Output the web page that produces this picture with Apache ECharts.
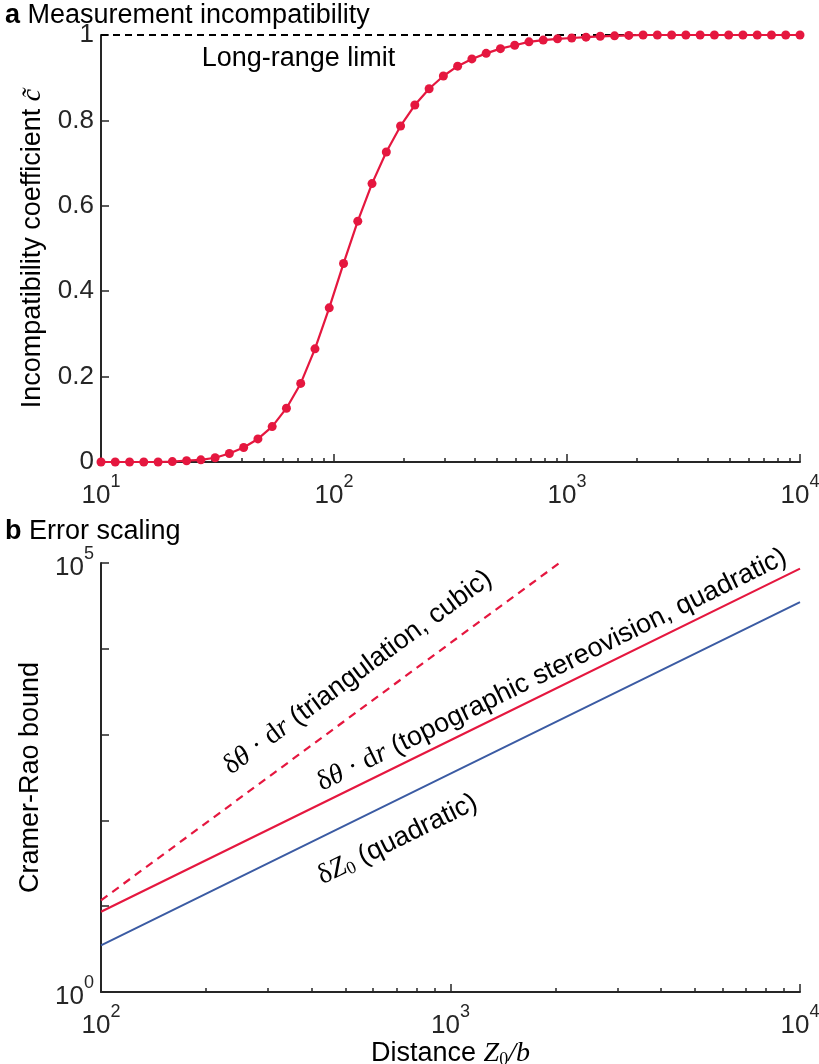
<!DOCTYPE html>
<html>
<head>
<meta charset="utf-8">
<title>Measurement incompatibility / Error scaling</title>
<script src="https://cdn.jsdelivr.net/npm/echarts@6/dist/echarts.min.js"></script>
<style>
  * { margin: 0; padding: 0; }
  html, body, #chart { width: 819px; height: 1064px; overflow: hidden; background: #fff; }
</style>
</head>
<body>
<div id="chart"></div>
<script>
// panel a: log-spaced distances Z0/b and the incompatibility coefficient
var distA = [10, 11.51, 13.26, 15.26, 17.58, 20.24, 23.30, 26.83, 30.89, 35.56,
  40.95, 47.15, 54.29, 62.51, 71.97, 82.86, 95.41, 109.9, 126.5, 145.6,
  167.7, 193.1, 222.3, 256.0, 294.7, 339.3, 390.7, 449.9, 518.0, 596.4,
  686.6, 790.6, 910.3, 1048, 1207, 1389, 1600, 1842, 2121, 2442,
  2812, 3237, 3728, 4292, 4942, 5690, 6551, 7543, 8685, 10000];
var coeffA = [0, 0, 0, 0, 0, 0.001, 0.003, 0.005, 0.010, 0.020,
  0.034, 0.054, 0.083, 0.126, 0.184, 0.265, 0.361, 0.465, 0.564, 0.652,
  0.726, 0.787, 0.836, 0.874, 0.904, 0.927, 0.944, 0.957, 0.968, 0.976,
  0.984, 0.988, 0.991, 0.993, 0.995, 0.997, 0.998, 0.999, 1, 1,
  1, 1, 1, 1, 1, 1, 1, 1, 1, 1];
var limitX = [10, 10000];
var limitY = [1, 1];
var limitLabelAt = [70.4, 0.946];

// panel b: Cramer-Rao bounds vs distance (straight lines on log-log axes)
var distB = [100, 1000, 10000];
var topoB = [8.6, 860, 86000];
var depthB = [3.5, 350, 35000];
var distTri = [100, 1000, 2050];
var triB = [11.7, 11700, 100000];
var triLabelAt = [543, 5295];
var topoLabelAt = [1950, 5660];
var depthLabelAt = [705, 59.9];

var minorA = [20, 30, 40, 50, 60, 70, 80, 90, 200, 300, 400, 500, 600, 700, 800, 900,
  2000, 3000, 4000, 5000, 6000, 7000, 8000, 9000];
var minorB = [200, 300, 400, 500, 600, 700, 800, 900, 2000, 3000, 4000, 5000, 6000, 7000, 8000, 9000];

var RED = '#E5173F', BLUE = '#3B5BA3', AX = '#262626';
var SANS = 'Liberation Sans, Arial, sans-serif';
var SERIF = 'Liberation Serif, DejaVu Serif, serif';
var FS = 26;   // tick labels
var TS = 27;   // titles, names, notes
var MS = 28;   // math glyphs

function zip(a, b) { return a.map(function (v, i) { return [v, b[i]]; }); }
function pow10(v) { return '{b|10}{s|' + Math.round(Math.log10(v)) + '}'; }
var powRich = {
  b: { fontSize: FS, lineHeight: 36, verticalAlign: 'bottom', color: AX, fontFamily: SANS },
  s: { fontSize: 18, lineHeight: 18, verticalAlign: 'top', color: AX, fontFamily: SANS }
};
var titleRich = {
  b: { fontSize: TS, fontWeight: 'bold', color: '#000', fontFamily: SANS },
  n: { fontSize: TS, fontWeight: 'normal', color: '#000', fontFamily: SANS }
};

function mainX(grid, min, max) {
  return {
    type: 'log', logBase: 10, gridIndex: grid, min: min, max: max, position: 'bottom',
    axisLine: { lineStyle: { color: AX, width: 2 } },
    axisTick: { inside: true, length: 8, lineStyle: { color: AX, width: 1.5 } },
    axisLabel: { formatter: pow10, rich: powRich, margin: 11 },
    splitLine: { show: false }
  };
}
function minorX(grid, min, max, ticks) {
  return {
    type: 'value', gridIndex: grid, min: Math.log10(min), max: Math.log10(max), position: 'bottom',
    axisLine: { show: false },
    axisTick: { inside: true, length: 4, lineStyle: { color: AX, width: 1.5 },
      customValues: ticks.map(function (t) { return Math.log10(t); }) },
    axisLabel: { show: false },
    splitLine: { show: false }
  };
}

var chart = echarts.init(document.getElementById('chart'));
var option = {
  animation: false,
  backgroundColor: '#fff',
  textStyle: { fontFamily: SANS },
  title: [
    { text: '{b|a}{n| Measurement incompatibility}', left: 0, top: -3,
      textStyle: { fontWeight: 'normal', rich: titleRich } },
    { text: '{b|b}{n| Error scaling}', left: 0, top: 513,
      textStyle: { fontWeight: 'normal', rich: titleRich } }
  ],
  grid: [
    { left: 101, top: 35, width: 699, height: 427, outerBoundsMode: 'none', containLabel: false },
    { left: 101, top: 563, width: 699, height: 429, outerBoundsMode: 'none', containLabel: false }
  ],
  xAxis: [
    mainX(0, 10, 10000),
    minorX(0, 10, 10000, minorA),
    Object.assign(mainX(1, 100, 10000), {
      name: '{n|Distance }{m|Z}{u|0}{m|/b}', nameLocation: 'middle', nameGap: 39,
      nameTextStyle: { rich: {
        n: { fontSize: TS, lineHeight: 30, color: '#000', fontFamily: SANS },
        m: { fontSize: MS, lineHeight: 30, color: '#000', fontFamily: SERIF, fontStyle: 'italic' },
        u: { fontSize: 18, lineHeight: 14, verticalAlign: 'bottom', color: '#000', fontFamily: SERIF } } }
    }),
    minorX(1, 100, 10000, minorB)
  ],
  yAxis: [
    { type: 'value', gridIndex: 0, min: 0, max: 1, interval: 0.2,
      name: '{n|Incompatibility coefficient }{m|c̃}', nameLocation: 'middle', nameGap: 54, nameRotate: 90,
      nameTextStyle: { rich: {
        n: { fontSize: TS, color: '#000', fontFamily: SANS },
        m: { fontSize: MS, color: '#000', fontFamily: SERIF, fontStyle: 'italic' } } },
      axisLine: { show: true, lineStyle: { color: AX, width: 2 } },
      axisTick: { show: true, inside: true, length: 8, lineStyle: { color: AX, width: 1.5 } },
      axisLabel: { fontSize: FS, color: AX, margin: 7 },
      splitLine: { show: false } },
    { type: 'log', logBase: 10, gridIndex: 1, min: 1, max: 100000,
      name: 'Cramer-Rao bound', nameLocation: 'middle', nameGap: 54, nameRotate: 90,
      nameTextStyle: { fontSize: TS, color: '#000' },
      axisLine: { show: true, lineStyle: { color: AX, width: 2 } },
      axisTick: { show: true, inside: true, length: 8, lineStyle: { color: AX, width: 1.5 } },
      axisLabel: { margin: 7, rich: powRich,
        formatter: function (v) { return (v === 1 || v === 100000) ? pow10(v) : ''; } },
      splitLine: { show: false } }
  ],
  series: [
    { type: 'line', xAxisIndex: 0, yAxisIndex: 0, data: zip(limitX, limitY), symbol: 'none',
      lineStyle: { color: '#000', width: 2, type: [7, 5] }, z: 1 },
    { type: 'line', xAxisIndex: 0, yAxisIndex: 0, data: zip(distA, coeffA),
      symbol: 'circle', symbolSize: 9, showAllSymbol: true,
      itemStyle: { color: RED }, lineStyle: { color: RED, width: 2.2 }, z: 3 },
    { type: 'line', xAxisIndex: 2, yAxisIndex: 1, data: zip(distTri, triB), symbol: 'none',
      lineStyle: { color: RED, width: 2.2, type: [8, 6] } },
    { type: 'line', xAxisIndex: 2, yAxisIndex: 1, data: zip(distB, topoB), symbol: 'none',
      lineStyle: { color: RED, width: 2.2 } },
    { type: 'line', xAxisIndex: 2, yAxisIndex: 1, data: zip(distB, depthB), symbol: 'none',
      lineStyle: { color: BLUE, width: 2 } }
  ]
};
chart.setOption(option);

// rotated annotations follow the slope of their lines in pixel space
var fB = { xAxisIndex: 2, yAxisIndex: 1 };
function slope(xs, ys) {
  var p0 = chart.convertToPixel(fB, [xs[0], ys[0]]);
  var p1 = chart.convertToPixel(fB, [xs[xs.length - 1], ys[ys.length - 1]]);
  return Math.atan2(p0[1] - p1[1], p1[0] - p0[0]);
}
var mathRich = {
  n: { fontSize: TS, lineHeight: 30, fill: '#000', fontFamily: SANS },
  m: { fontSize: MS, lineHeight: 30, fill: '#000', fontFamily: SERIF },
  i: { fontSize: MS, lineHeight: 30, fill: '#000', fontFamily: SERIF, fontStyle: 'italic' },
  u: { fontSize: 18, lineHeight: 14, verticalAlign: 'bottom', fill: '#000', fontFamily: SERIF }
};
function note(at, text, rot) {
  var p = chart.convertToPixel(fB, at);
  return { type: 'text', x: p[0], y: p[1], rotation: rot, z: 10,
    style: { text: text, rich: mathRich, align: 'center', verticalAlign: 'middle' } };
}
var pLim = chart.convertToPixel({ xAxisIndex: 0, yAxisIndex: 0 }, limitLabelAt);
chart.setOption({
  graphic: [
    { type: 'text', x: pLim[0], y: pLim[1], z: 10,
      style: { text: 'Long-range limit', fontSize: TS, fontFamily: SANS, fill: '#000', align: 'center', verticalAlign: 'middle' } },
    note(triLabelAt, '{m|δ}{i|θ}{m| · d}{i|r}{n| (triangulation, cubic)}', slope(distTri, triB)),
    note(topoLabelAt, '{m|δ}{i|θ}{m| · d}{i|r}{n| (topographic stereovision, quadratic)}', slope(distB, topoB)),
    note(depthLabelAt, '{m|δ}{i|Z}{u|0}{n| (quadratic)}', slope(distB, depthB))
  ]
});
</script>
</body>
</html>
